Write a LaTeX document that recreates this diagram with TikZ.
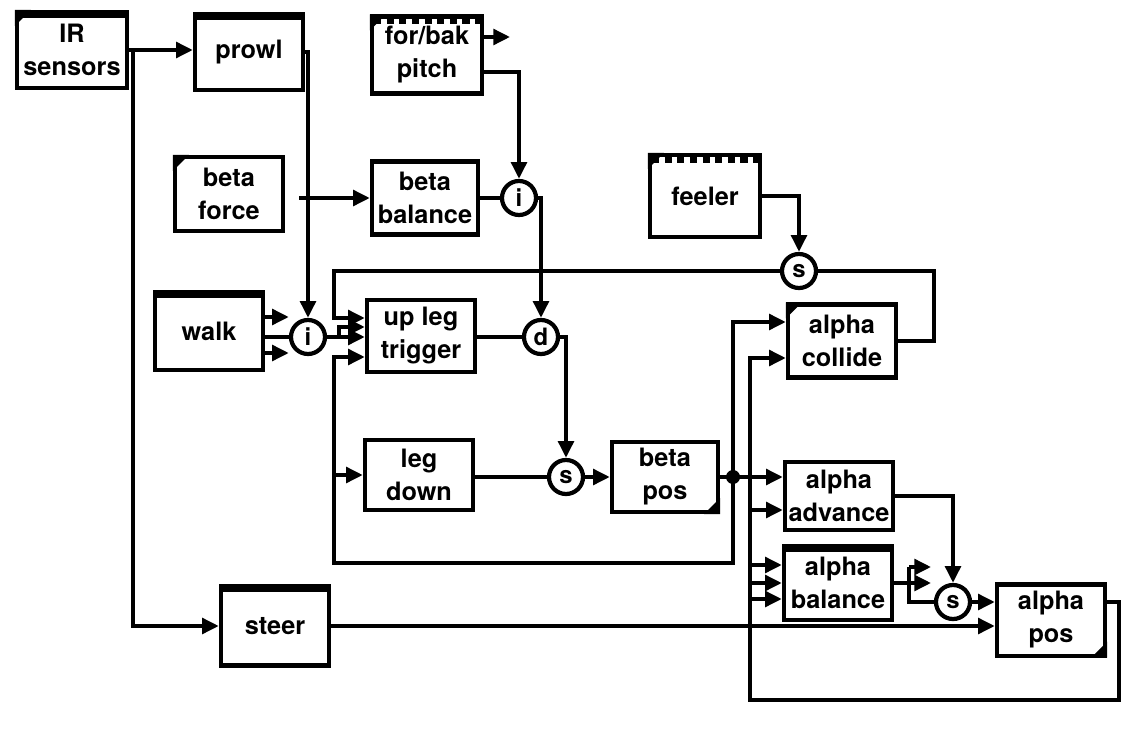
\documentclass[tikz,border=0pt]{standalone}
\usepackage{fontspec}
\setmainfont{TeX Gyre Heros}
\usetikzlibrary{calc,arrows.meta}

\begin{document}
\begin{tikzpicture}[x=0.025cm,y=-0.025cm,line width=3pt]
	\tikzstyle{bbox}=[rectangle, draw, line width=3pt, minimum width=2.7cm, minimum height=1.85cm, inner sep=0pt, align=center, font=\fontsize{18}{23.5}\selectfont\bfseries]
	\tikzstyle{gate}=[circle, draw, line width=3pt, minimum size=0.85cm, inner sep=0pt, font=\fontsize{17}{17}\selectfont\bfseries]
	\tikzstyle{arr}=[-{Triangle[length=12pt,width=11pt]}]
	\useasboundingbox (0,0) rectangle (1140,736);

	\node[bbox, minimum width=2.75cm, minimum height=1.9cm] (ir) at (72,50) {IR\\sensors};
	\node[bbox, minimum height=1.9cm] (prowl) at (249,52) {prowl};
	\node[bbox, minimum width=2.75cm, minimum height=1.92cm] (forbak) at (427,55) {for/bak\\pitch};
	\node[bbox] (bforce) at (229,194) {beta\\force};
	\node[bbox, minimum width=2.65cm, minimum height=1.82cm] (bbal) at (425,198) {beta\\balance};
	\node[bbox, minimum width=2.75cm, minimum height=2.05cm] (feeler) at (705,196) {feeler};
	\node[bbox, minimum height=1.95cm] (walk) at (209,331) {walk};
	\node[bbox, minimum height=1.8cm] (uplt) at (421,336) {up leg\\trigger};
	\node[bbox, minimum height=1.75cm] (legdown) at (419,475) {leg\\down};
	\node[bbox, minimum width=2.65cm, minimum height=1.75cm] (bpos) at (665,477) {beta\\pos};
	\node[bbox, minimum height=1.82cm] (acoll) at (842,341) {alpha\\collide};
	\node[bbox, minimum height=1.7cm] (aadv) at (839,496) {alpha\\advance};
	\node[bbox] (abal) at (838,583) {alpha\\balance};
	\node[bbox, minimum height=1.97cm] (steer) at (275,626) {steer};
	\node[bbox, minimum height=1.78cm] (apos) at (1051,620) {alpha\\pos};

	\node[gate] (i1) at (519,198) {i};
	\node[gate] (stop) at (799,271) {s};
	\node[gate] (iwalk) at (308,337) {i};
	\node[gate] (d) at (541,337) {d};
	\node[gate] (smid) at (566,477) {s};
	\node[gate] (salpha) at (953,602) {s};

	% box markings
	\foreach \n in {ir,forbak,bforce,feeler,acoll}
		\fill (\n.north west) -- ++(16,0) -- ++(-16,16) -- cycle;
	\foreach \n in {bpos,apos}
		\fill (\n.south east) -- ++(-16,0) -- ++(16,-16) -- cycle;
	\foreach \n in {ir,prowl,walk,steer,abal}
		\fill (\n.north west) rectangle ($(\n.north east)+(0,8)$);
	\foreach \n in {forbak,feeler}
		\draw[line width=4pt, dash pattern=on 5pt off 4pt] ($(\n.north west)+(4,7)$) -- ($(\n.north east)+(-4,7)$);

	\coordinate (irsplit) at (133,50);
	\coordinate (lx) at (334,563);
	\coordinate (bj) at (733,477);
	\coordinate (ax) at (750,700);

	\draw[arr] (ir.east) -- (ir.east -| prowl.west);
	\draw[arr] (irsplit) |- (steer.west);
	\draw[arr] (prowl.east) -| (iwalk.north);
	\draw[arr] ($(forbak.east)+(0,17)$) -| (i1.north);
	\draw[arr] ($(forbak.east)+(0,-18)$) -- ++(26,0);
	\draw[arr] ($(bforce.east |- bbal.west)+(14,0)$) -- (bbal.west);
	\draw (bbal.east) -- (i1.west);
	\draw[arr] (i1.east) -| (d.north);
	\draw[arr] (feeler.east) -| (stop.north);
	\draw (acoll.east) -- ++(36,0) |- (stop.east);
	\draw[arr] (stop.west) -| ($(lx |- uplt.west)+(0,-18)$) -- ($(uplt.west)+(0,-18)$);

	\draw (walk.east |- iwalk.west) -- (iwalk.west);
	\foreach \dy in {-20,16}
		\draw[arr] ($(walk.east |- iwalk.west)+(0,\dy)$) -- ($(iwalk.west)+(0,\dy)$);
	\draw[arr] (iwalk.east) -- (iwalk.east -| uplt.west);
	\draw[arr] ($(iwalk.east)+(12,0)$) |- ($(uplt.west)+(0,-9)$);
	\draw (uplt.east |- d.west) -- (d.west);
	\draw[arr] (d.east) -| (smid.north);
	\draw (legdown.east |- smid.west) -- (smid.west);
	\draw[arr] (smid.east) -- (smid.east -| bpos.west);

	\draw (bpos.east |- bj) -- (bj);
	\fill (bj) circle[radius=7];
	\draw[arr] (bj) |- (lx) |- ($(uplt.west)+(0,21)$);
	\draw[arr] (lx |- legdown.west) -- (legdown.west);
	\draw[arr] (bj) |- ($(acoll.west)+(0,-19)$);
	\draw[arr] (bj) -- (bj -| aadv.west);

	\draw[arr] ($(apos.east)+(0,-18)$) -- ++(12,0) |- (ax) |- ($(acoll.west)+(0,17)$);
	\draw[arr] ($(ax |- aadv.west)+(0,14)$) -- ($(aadv.west)+(0,14)$);
	\foreach \dy in {-18,0,16}
		\draw[arr] ($(ax |- abal.west)+(0,\dy)$) -- ($(abal.west)+(0,\dy)$);

	\draw[arr] (aadv.east) -| (salpha.north);
	\draw (abal.east) -- ++(15,0) coordinate (bx);
	\foreach \dy in {-16,0}
		\draw[arr] ($(bx)+(0,\dy)$) -- ++(22,0);
	\draw ($(bx)+(0,-16)$) |- (salpha.west);
	\draw[arr] (salpha.east) -- (salpha.east -| apos.west);
	\draw[arr] (steer.east) -- (steer.east -| apos.west);
\end{tikzpicture}
\end{document}
